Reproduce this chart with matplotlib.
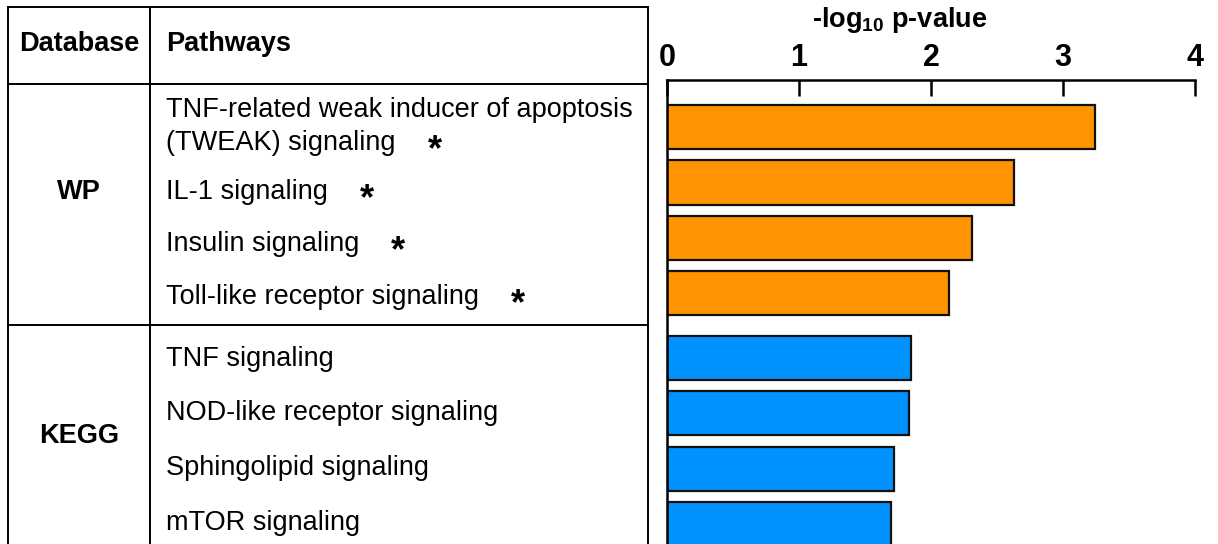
import matplotlib
import matplotlib.pyplot as plt
import numpy as np

matplotlib.rcParams.update({
    "font.family": "Liberation Sans",
    "mathtext.fontset": "custom",
    "mathtext.rm": "Liberation Sans",
    "mathtext.bf": "Liberation Sans:bold",
})

W, H = 1218, 544

# data
databases = ["WP", "KEGG"]
pathway_lines = [
    ["TNF-related weak inducer of apoptosis", "(TWEAK) signaling"],
    ["IL-1 signaling"],
    ["Insulin signaling"],
    ["Toll-like receptor signaling"],
    ["TNF signaling"],
    ["NOD-like receptor signaling"],
    ["Sphingolipid signaling"],
    ["mTOR signaling"],
]
pathway_db = ["WP", "WP", "WP", "WP", "KEGG", "KEGG", "KEGG", "KEGG"]
neg_log_p = [3.24, 2.63, 2.31, 2.14, 1.85, 1.83, 1.72, 1.70]
significant = [True, True, True, True, False, False, False, False]
db_colors = {"WP": "#FF9400", "KEGG": "#0093FF"}
xticks = [0, 1, 2, 3, 4]

fig = plt.figure(figsize=(W / 100, H / 100), dpi=100)

# -- table part, drawn in pixel coords
ov = fig.add_axes([0, 0, 1, 1])
ov.set_xlim(0, W)
ov.set_ylim(H, 0)
ov.axis("off")

lw = 1.4
tab_l, tab_mid, tab_r = 8, 150, 648
tab_t, head_b, grp_div = 7, 84, 325
ov.plot([tab_l, tab_r], [tab_t, tab_t], color="k", lw=lw)
ov.plot([tab_l, tab_r], [head_b, head_b], color="k", lw=lw)
ov.plot([tab_l, tab_r], [grp_div, grp_div], color="k", lw=lw)
ov.plot([tab_l, tab_l], [tab_t, H + 5], color="k", lw=lw)
ov.plot([tab_mid, tab_mid], [tab_t, H + 5], color="k", lw=lw)
ov.plot([tab_r, tab_r], [tab_t, H + 5], color="k", lw=lw)

fs = 19.5
ov.text((tab_l + tab_mid) / 2, 51, "Database", fontsize=fs, fontweight="bold", ha="center", va="baseline")
ov.text(166, 51, "Pathways", fontsize=fs, fontweight="bold", ha="left", va="baseline")

db_baselines = {"WP": 199, "KEGG": 443}
for db in databases:
    ov.text((tab_l + tab_mid) / 2, db_baselines[db], db, fontsize=fs, fontweight="bold",
            ha="center", va="baseline")

row_baselines = [117, 199, 251, 304, 366, 420, 475, 530]
line_gap = 33
last_texts = []
for lines, yb in zip(pathway_lines, row_baselines):
    t = None
    for k, line in enumerate(lines):
        t = ov.text(166, yb + k * line_gap, line, fontsize=fs, ha="left", va="baseline")
    last_texts.append((t, yb + (len(lines) - 1) * line_gap))

# significance stars after the last line of each label
fig.canvas.draw()
renderer = fig.canvas.get_renderer()
inv = ov.transData.inverted()
for (t, yb), sig in zip(last_texts, significant):
    if not sig:
        continue
    bb = t.get_window_extent(renderer)
    x_end = inv.transform((bb.x1, bb.y0))[0]
    ov.text(x_end + 39, yb + 10, "*", fontsize=26, fontweight="bold", ha="center", va="baseline")

# -- bar part
ax_top = 80
ax = fig.add_axes([667 / W, 0, (1195 - 667) / W, (H - ax_top) / H])
group_gap = 0.17
grp_idx = [databases.index(d) for d in pathway_db]
pos = np.arange(len(neg_log_p)) + group_gap * np.array(grp_idx)
colors = [db_colors[d] for d in pathway_db]
ax.barh(pos, neg_log_p, height=0.8, color=colors, edgecolor="#111111", linewidth=1.6)
ax.set_xlim(0, 4)
ax.set_ylim(7.53, -0.85)
ax.xaxis.tick_top()
ax.set_xticks(xticks)
ax.set_xticklabels([str(v) for v in xticks], fontsize=22, fontweight="bold")
ax.tick_params(axis="x", direction="in", length=11.5, width=1.8, pad=4.7)
ax.set_yticks([])
for side in ["bottom", "right"]:
    ax.spines[side].set_visible(False)
for side in ["top", "left"]:
    ax.spines[side].set_linewidth(1.8)

ov.text(900, 27, r"-log$_{\mathbf{10}}$ p-value", fontsize=fs, fontweight="bold", ha="center", va="baseline")

fig.savefig("out.png", dpi=100)
